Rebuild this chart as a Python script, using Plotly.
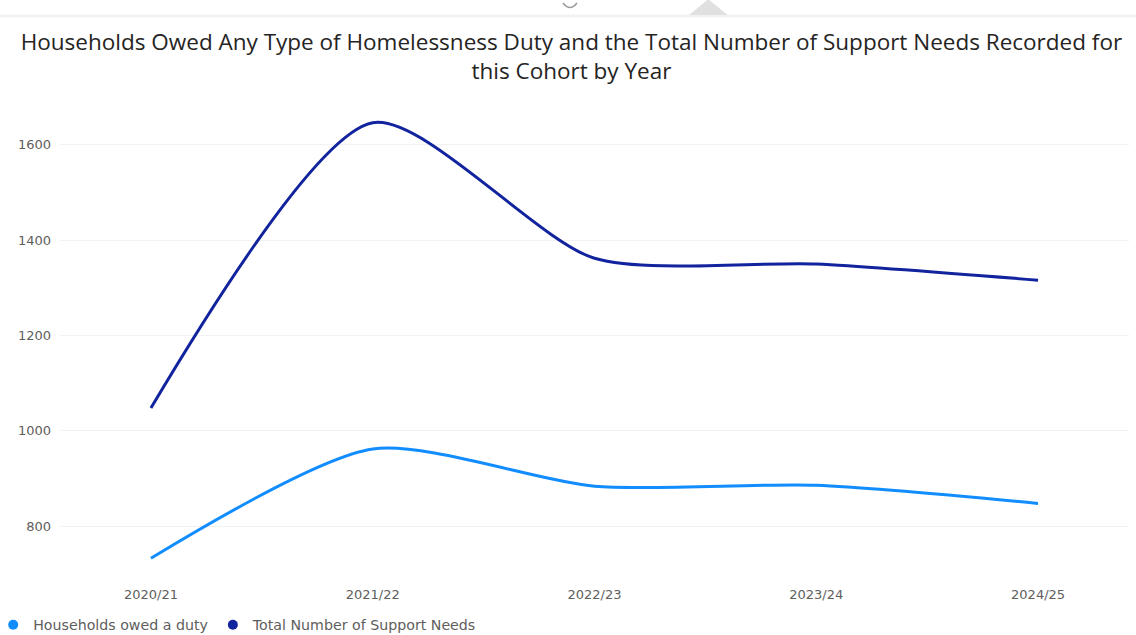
import plotly.graph_objects as go

years = ["2020/21", "2021/22", "2022/23", "2023/24", "2024/25"]
households_owed = [733, 962, 884, 886, 848]
support_needs = [1048, 1646, 1362, 1350, 1316]
y_ticks = [800, 1000, 1200, 1400, 1600]

names = ["Households owed a duty", "Total Number of Support Needs"]
colors = ["#118DFF", "#12239E"]

TITLE_FONT = "Open Sans"
AXIS_FONT = "DejaVu Sans"

fig = go.Figure()
for name, values, color in zip(names, [households_owed, support_needs], colors):
    fig.add_trace(go.Scatter(
        x=years, y=values, mode="lines", name=name, showlegend=False,
        line=dict(color=color, width=3, shape="spline", smoothing=0.72),
    ))
# circle swatches for the legend
for name, color in zip(names, colors):
    fig.add_trace(go.Scatter(
        x=[None], y=[None], mode="markers", name=name,
        marker=dict(color=color, size=10, symbol="circle"),
    ))

fig.update_layout(
    width=1136, height=635,
    paper_bgcolor="white", plot_bgcolor="white",
    margin=dict(l=60, r=7, t=97, b=61, autoexpand=False),
    title=dict(
        text="Households Owed Any Type of Homelessness Duty and the Total Number of Support Needs Recorded for<br>this Cohort by Year",
        x=0.503, xanchor="center", y=0.921, yanchor="middle",
        font=dict(family=TITLE_FONT, size=22.5, color="#252423"),
    ),
    font=dict(family=AXIS_FONT, color="#605E5C"),
    showlegend=True,
    legend=dict(
        orientation="h", x=-0.0625, xanchor="left", y=-0.107, yanchor="middle",
        font=dict(family=AXIS_FONT, size=14.2, color="#605E5C"),
        itemwidth=30, tracegroupgap=0,
        bgcolor="rgba(0,0,0,0)",
    ),
    xaxis=dict(
        type="category", range=[-0.41, 4.41], showgrid=False, zeroline=False,
        showline=False, ticks="", ticklabelstandoff=11,
        tickfont=dict(family=AXIS_FONT, size=13, color="#605E5C"),
    ),
    yaxis=dict(
        range=[700, 1700], tickvals=y_ticks, showgrid=True, gridcolor="#F2F2F2",
        gridwidth=1, zeroline=False, showline=False, ticks="",
        tickfont=dict(family=AXIS_FONT, size=13, color="#605E5C"), ticklabelstandoff=8,
    ),
)

# Header strip remnants along the top edge
fig.add_shape(type="line", xref="paper", yref="paper", x0=-0.06, x1=1.01,
              y0=1.170, y1=1.170, line=dict(color="#F2F2F2", width=3))
fig.add_shape(type="path", xref="paper", yref="paper",
              path="M 0.5885 1.172 L 0.6245 1.172 L 0.6065 1.205 Z",
              fillcolor="#E0E0E0", line=dict(width=0))
fig.add_shape(type="path", xref="paper", yref="paper",
              path="M 0.4705 1.197 Q 0.4771 1.178 0.4836 1.197",
              line=dict(color="#9A9A9A", width=1.5))

fig.write_html("out.html")
